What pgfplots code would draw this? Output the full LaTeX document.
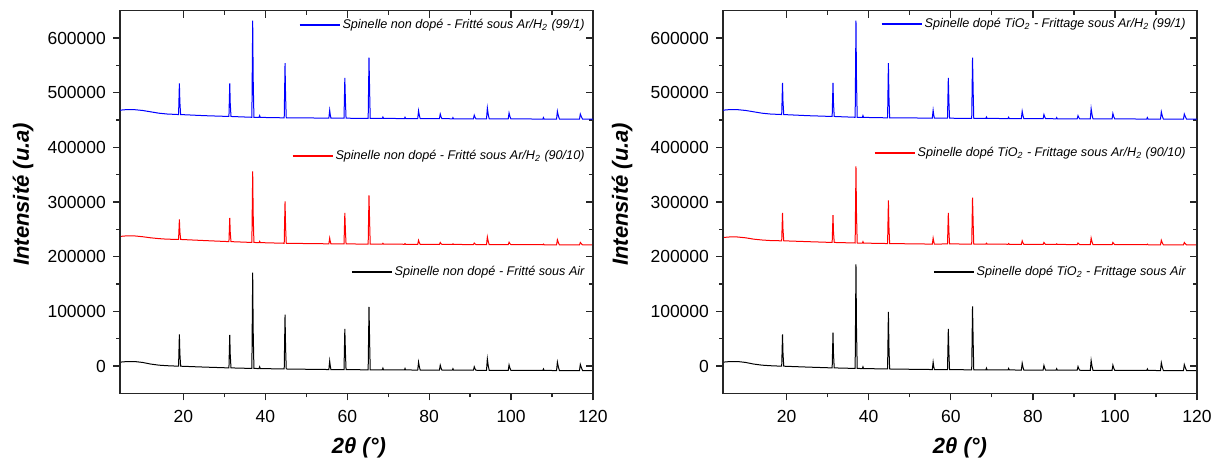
\documentclass[border=0pt]{standalone}
\usepackage{fontspec}
\setmainfont{Liberation Sans}
\usepackage{pgfplots}
\usepackage{pgfplotstable}
\pgfplotsset{compat=1.18}

\pgfplotstableread{
x k1 r1 u1 k2 r2 u2
4.5 7000 237000 468000 7000 235000 468000
6 8000 238000 469000 8000 236000 469000
8 8200 238000 469000 8200 236000 469000
10 6500 236500 467500 6500 234500 467500
12 3500 234500 465000 3500 232000 465000
14 1500 233000 462500 1500 230500 462500
16 500 232000 461000 500 229500 461000
18.8 -400 231500 460000 -400 229000 460000
19.0 58000 268000 517000 58000 280000 518000
19.12 23000 246100 482800 23000 249400 483200
19.3 -400 231500 460000 -400 229000 460000
25 -2000 229500 458000 -2000 227500 458000
31.1 -3500 227500 456500 -3500 226000 456500
31.3 57000 271000 517000 61000 276000 518000
31.42 20700 244900 480700 22300 246000 481100
31.6 -3500 227500 456500 -3500 226000 456500
36.7 -4500 226000 455000 -4500 225000 455000
36.9 171000 356000 632000 186000 365000 632000
37.02 65700 278000 525800 71700 281000 525800
37.2 -4500 226000 455000 -4500 225000 455000
38.45 -4700 225700 454800 -4700 224800 454800
38.6 -1500 228000 458000 -1500 227500 458000
38.75 -4700 225700 454800 -4700 224800 454800
44.6 -5500 224500 454000 -5500 224000 454000
44.8 94000 301000 554000 99000 303000 554000
44.93 34300 255100 494000 36300 255600 494000
45.1 -5500 224500 454000 -5500 224000 454000
50 -6000 224000 453800 -6000 223500 453800
55.5 -6500 223500 453500 -6500 223000 453500
55.7 9000 234000 468000 7000 234000 468000
55.85 -300 227700 459300 -1100 227700 459300
56.0 -6500 223500 453500 -6500 223000 453500
59.2 -6700 223300 453300 -6700 223300 453300
59.4 68000 280000 527000 68000 280000 527000
59.55 23200 246000 482800 23200 246000 482800
59.7 -6700 223300 453300 -6700 223300 453300
65.1 -7000 223000 453000 -7000 223000 453000
65.3 108000 312000 564000 109000 308000 564000
65.47 39000 258600 497400 39400 257000 497400
65.6 -7000 223000 453000 -7000 223000 453000
68.55 -7100 222900 452900 -7100 222900 452900
68.7 -4000 224500 455500 -4000 224500 455500
68.85 -7100 222900 452900 -7100 222900 452900
73.95 -7300 222700 452700 -7300 222700 452700
74.1 -4500 224000 455000 -4500 224000 455000
74.25 -7300 222700 452700 -7300 222700 452700
77.2 -7400 222600 452600 -7400 222600 452600
77.4 7000 230000 467000 5000 229000 466000
77.6 -1640 225560 458360 -2440 225160 457960
77.8 -7400 222600 452600 -7400 222600 452600
82.5 -7600 222400 452400 -7600 222400 452400
82.7 1500 226000 461000 1000 226000 460000
82.9 -3960 223840 455840 -4160 223840 455440
83.1 -7600 222400 452400 -7600 222400 452400
85.65 -7700 222300 452300 -7700 222300 452300
85.8 -5000 223500 454500 -5000 223500 454500
85.95 -7700 222300 452300 -7700 222300 452300
90.8 -7800 222200 452200 -7800 222200 452200
91.0 -1500 225000 459000 -1000 225000 458000
91.2 -5280 223320 454920 -5080 223320 454520
91.4 -7800 222200 452200 -7800 222200 452200
94.0 -7900 222100 452100 -7900 222100 452100
94.2 13000 236000 472000 10000 234000 471000
94.42 460 227660 460060 -740 226860 459660
94.65 -7900 222100 452100 -7900 222100 452100
99.3 -8000 222000 452000 -8000 222000 452000
99.5 2000 226500 463000 1500 226000 462000
99.72 -4000 223800 456400 -4200 223600 456000
99.95 -8000 222000 452000 -8000 222000 452000
107.75 -8200 221800 451800 -8200 221800 451800
107.9 -5500 223000 454500 -5500 223000 454500
108.05 -8200 221800 451800 -8200 221800 451800
111.1 -8300 221700 451700 -8300 221700 451700
111.3 7000 231000 466000 6000 230000 465000
111.55 -2180 225420 457420 -2580 225020 457020
111.8 -8300 221700 451700 -8300 221700 451700
116.7 -8400 221600 451600 -8400 221600 451600
116.9 3000 226000 461000 2500 226000 461000
117.2 -3840 223360 455360 -4040 223360 455360
117.45 -8400 221600 451600 -8400 221600 451600
120 -8500 221500 451500 -8500 221500 451500
}\xrd

\pgfplotsset{legend image code/.code={\draw[#1, line width=0.9pt] (0pt,0pt) -- (20pt,0pt);}}

\pgfplotsset{
  panel/.style={scale only axis, height=191.3pt,
    xmin=4.5, xmax=120, ymin=-50000, ymax=650000},
  frame/.style={panel,
    xtick={20,40,...,120}, minor x tick num=1,
    ytick={0,100000,...,600000}, minor y tick num=1,
    scaled y ticks=false, scaled x ticks=false,
    axis line style={line width=0.75pt, black!85},
    major tick length=3.5pt, minor tick length=2pt,
    every tick/.style={black!85, line width=0.65pt},
    tick label style={font=\fontsize{8.75}{10}\selectfont},
    xticklabel style={yshift=-1.5pt},
    /pgf/number format/assume math mode=true,
    yticklabel style={/pgf/number format/fixed, /pgf/number format/precision=0, /pgf/number format/1000 sep={}},
    label style={font=\fontsize{11}{13}\selectfont\bfseries\itshape}},
  leg/.style={legend style={draw=none, fill=none, at={#1}, anchor=east,
      font=\fontsize{6.3}{7.5}\selectfont\itshape, inner sep=0pt, nodes={inner sep=1pt}},
    legend cell align=left},
}

\begin{document}
\begin{tikzpicture}
\useasboundingbox (0,0) rectangle (609pt,231.5pt);
% ---------- left panel ----------
\begin{axis}[frame, width=236.5pt, at={(60pt,34.85pt)}, anchor=south west,
  tick align=outside, xtick pos=left, ytick pos=left,
  xlabel={2θ (°)}, ylabel={Intensité (u.a)},
  xlabel style={at={(axis description cs:0.505,-0.143)}, anchor=center},
  ylabel style={at={(axis description cs:-0.205,0.52)}, anchor=center},
  leg={(0.987,0.317)}]
\addplot[black, line width=0.5pt] table[x=x,y=k1]{\xrd};
\addlegendentry{Spinelle non dopé - Fritté sous Air}
\end{axis}
\begin{axis}[panel, width=236.5pt, at={(60pt,34.85pt)}, anchor=south west, hide axis,
  leg={(0.987,0.620)}]
\addplot[red, line width=0.5pt] table[x=x,y=r1]{\xrd};
\addlegendentry{Spinelle non dopé - Fritté sous Ar/H\textsubscript{2} (90/10)}
\end{axis}
\begin{axis}[frame, width=236.5pt, at={(60pt,34.85pt)}, anchor=south west,
  tick align=inside, xtick pos=right, ytick pos=right, xticklabels={}, yticklabels={},
  leg={(0.987,0.962)}]
\addplot[blue, line width=0.5pt] table[x=x,y=u1]{\xrd};
\addlegendentry{Spinelle non dopé - Fritté sous Ar/H\textsubscript{2} (99/1)}
\end{axis}
% ---------- right panel ----------
\begin{axis}[frame, width=237pt, at={(361.5pt,34.85pt)}, anchor=south west,
  tick align=outside, xtick pos=left, ytick pos=left,
  xlabel={2θ (°)}, ylabel={Intensité (u.a)},
  xlabel style={at={(axis description cs:0.5,-0.143)}, anchor=center},
  ylabel style={at={(axis description cs:-0.213,0.52)}, anchor=center},
  leg={(0.981,0.317)}]
\addplot[black, line width=0.5pt] table[x=x,y=k2]{\xrd};
\addlegendentry{Spinelle dopé TiO\textsubscript{2} - Frittage sous Air}
\end{axis}
\begin{axis}[panel, width=237pt, at={(361.5pt,34.85pt)}, anchor=south west, hide axis,
  leg={(0.981,0.628)}]
\addplot[red, line width=0.5pt] table[x=x,y=r2]{\xrd};
\addlegendentry{Spinelle dopé TiO\textsubscript{2} - Frittage sous Ar/H\textsubscript{2} (90/10)}
\end{axis}
\begin{axis}[frame, width=237pt, at={(361.5pt,34.85pt)}, anchor=south west,
  tick align=inside, xtick pos=right, ytick pos=right, xticklabels={}, yticklabels={},
  leg={(0.981,0.965)}]
\addplot[blue, line width=0.5pt] table[x=x,y=u2]{\xrd};
\addlegendentry{Spinelle dopé TiO\textsubscript{2} - Frittage sous Ar/H\textsubscript{2} (99/1)}
\end{axis}
\end{tikzpicture}
\end{document}
